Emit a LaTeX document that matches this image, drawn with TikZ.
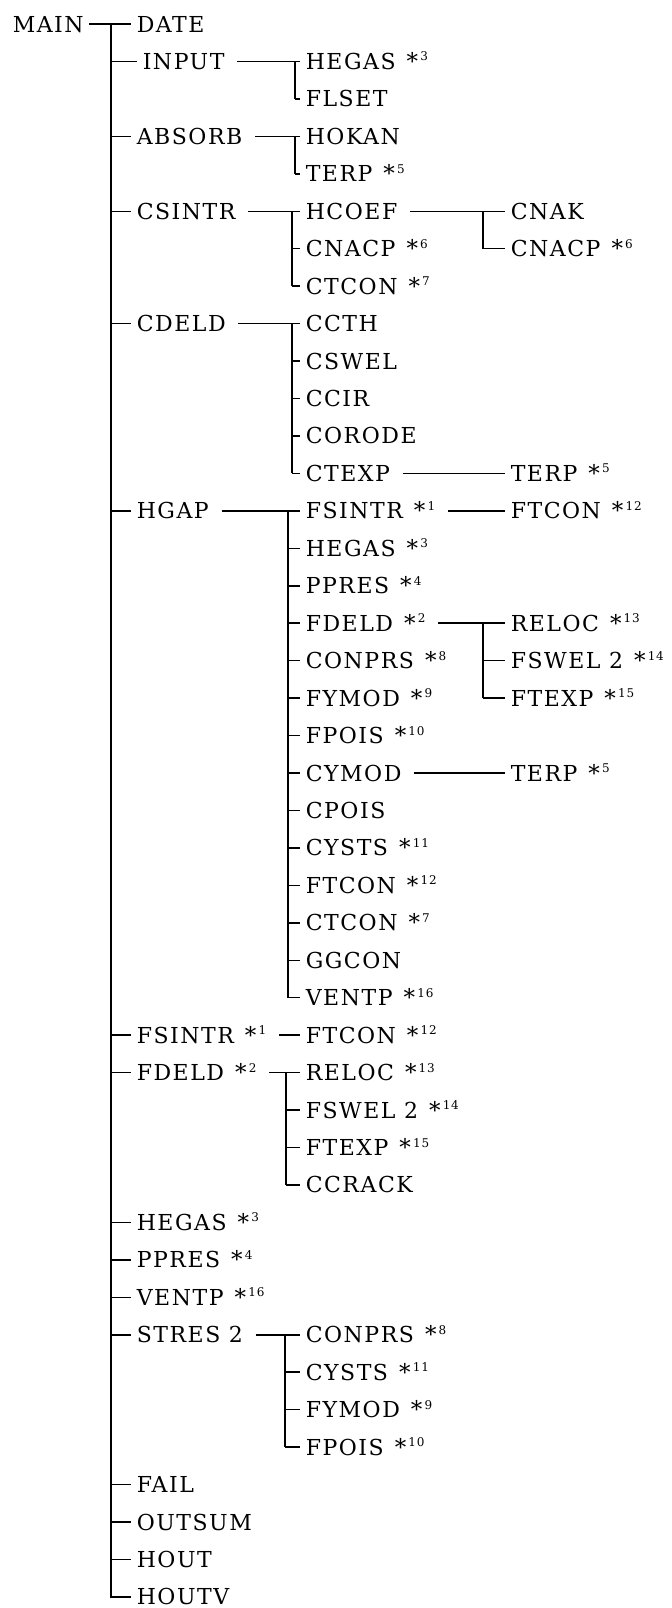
\documentclass[tikz,border=0pt]{standalone}
\usepackage{fontspec}
\usepackage{tikz}
\setmainfont{DejaVu Serif}[LetterSpace=7]

\newcommand{\nt}[1]{\hspace{0.5em}{\fontsize{23}{23}\selectfont *}\hspace{0.1em}\raisebox{8.5pt}{\fontsize{12}{12}\selectfont #1}}

\begin{document}
\begin{tikzpicture}[x=1pt,y=-37.45pt,line width=1.5pt,
  lbl/.style={anchor=west,inner xsep=5pt,inner ysep=0pt,text height=16pt,text depth=0pt,
    font=\fontsize{22}{26}\selectfont},
  sub/.style={shorten <=7pt}]
\useasboundingbox (0,0.359) rectangle (671,43.296);
\coordinate (tr) at (111,0);
\foreach \n/\x/\r/\t in {main/7/1/MAIN,date/131/1/DATE,input/137/2/INPUT,hegasA/300/2/{HEGAS\nt{3}},
  flset/300/3/FLSET,absorb/131/4/ABSORB,hokan/300/4/HOKAN,terpA/300/5/{TERP\nt{5}},
  csintr/131/6/CSINTR,hcoef/300/6/HCOEF,cnak/505/6/CNAK,cnacpA/300/7/{CNACP\nt{6}},
  cnacpB/505/7/{CNACP\nt{6}},ctconA/300/8/{CTCON\nt{7}},cdeld/131/9/CDELD,ccth/300/9/CCTH,
  cswel/300/10/CSWEL,ccir/300/11/CCIR,corode/300/12/CORODE,ctexp/300/13/CTEXP,terpB/505/13/{TERP\nt{5}},
  hgap/131/14/HGAP,fsintrA/300/14/{FSINTR\nt{1}},ftconA/505/14/{FTCON\nt{12}},hegasB/300/15/{HEGAS\nt{3}},
  ppresA/300/16/{PPRES\nt{4}},fdeldA/300/17/{FDELD\nt{2}},relocA/505/17/{RELOC\nt{13}},
  conprsA/300/18/{CONPRS\nt{8}},fswelA/505/18/{FSWEL 2\nt{14}},fymodA/300/19/{FYMOD\nt{9}},
  ftexpA/505/19/{FTEXP\nt{15}},fpoisA/300/20/{FPOIS\nt{10}},cymod/300/21/CYMOD,terpC/505/21/{TERP\nt{5}},
  cpois/300/22/CPOIS,cystsA/300/23/{CYSTS\nt{11}},ftconB/300/24/{FTCON\nt{12}},ctconB/300/25/{CTCON\nt{7}},
  ggcon/300/26/GGCON,ventpA/300/27/{VENTP\nt{16}},fsintrB/131/28/{FSINTR\nt{1}},ftconC/300/28/{FTCON\nt{12}},
  fdeldB/131/29/{FDELD\nt{2}},relocB/300/29/{RELOC\nt{13}},fswelB/300/30/{FSWEL 2\nt{14}},
  ftexpB/300/31/{FTEXP\nt{15}},ccrack/300/32/CCRACK,hegasC/131/33/{HEGAS\nt{3}},ppresB/131/34/{PPRES\nt{4}},
  ventpB/131/35/{VENTP\nt{16}},stres/131/36/STRES 2,conprsB/300/36/{CONPRS\nt{8}},cystsB/300/37/{CYSTS\nt{11}},
  fymodB/300/38/{FYMOD\nt{9}},fpoisB/300/39/{FPOIS\nt{10}},fail/131/40/FAIL,outsum/131/41/OUTSUM,
  hout/131/42/HOUT,houtv/131/43/HOUTV}
  \node[lbl] (\n) at (\x,\r) {\t};

\draw (main.east) -- (date.west);
\draw (date.west -| tr) -- (houtv.west -| tr) -- (houtv.west);
\foreach \n in {input,absorb,csintr,cdeld,hgap,fsintrB,fdeldB,hegasC,ppresB,ventpB,stres,fail,outsum,hout}
  \draw (\n.west -| tr) -- (\n.west);

\foreach \p/\j/\f/\l/\cs in {input/295/hegasA/flset/{flset},absorb/295/hokan/terpA/{terpA},
  csintr/292/hcoef/ctconA/{cnacpA,ctconA},hcoef/483/cnak/cnacpB/{cnacpB},
  cdeld/292/ccth/ctexp/{cswel,ccir,corode,ctexp},
  hgap/288/fsintrA/ventpA/{hegasB,ppresA,fdeldA,conprsA,fymodA,fpoisA,cymod,cpois,cystsA,ftconB,ctconB,ggcon,ventpA},
  fdeldA/483/relocA/ftexpA/{fswelA,ftexpA},fdeldB/286/relocB/ccrack/{fswelB,ftexpB,ccrack},
  stres/285/conprsB/fpoisB/{cystsB,fymodB,fpoisB}} {
  \coordinate (j\p) at (\j,0);
  \draw[sub] (\p.east) -- (\f.west);
  \draw (\f.west -| j\p) -- (\l.west -| j\p);
  \foreach \c in \cs \draw (\c.west -| j\p) -- (\c.west);
}

\foreach \p/\c in {ctexp/terpB,fsintrA/ftconA,cymod/terpC,fsintrB/ftconC}
  \draw[sub] (\p.east) -- (\c.west);
\end{tikzpicture}
\end{document}
